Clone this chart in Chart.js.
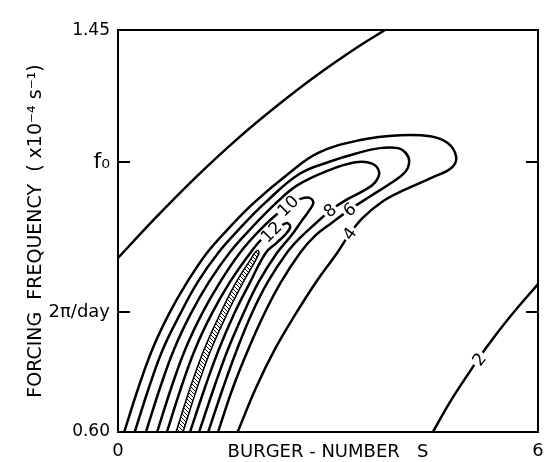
<!DOCTYPE html>
<html>
<head>
<meta charset="utf-8">
<script src="https://cdn.jsdelivr.net/npm/chart.js@4/dist/chart.umd.min.js"></script>
<style>
  html, body { margin: 0; padding: 0; background: #fff; }
  canvas { display: block; }
</style>
</head>
<body>
<canvas id="chart" width="546" height="462"></canvas>
<script>
// Burger number S along x, forcing frequency (x1e-4 s^-1) along y

// upper-left contour (unlabelled)
const topS = [0, 0.57, 1.14, 1.71, 2.29, 2.86, 3.43, 3.81];
const topF = [0.804, 0.877, 0.959, 1.049, 1.148, 1.255, 1.370, 1.450];

// contour 2 (lower right)
const c2S = [4.50, 4.74, 5.00, 5.27, 5.60, 6.00];
const c2F = [0.600, 0.627, 0.655, 0.685, 0.721, 0.765];

const c4S = [0.09, 0.29, 0.49, 0.73, 0.99, 1.27, 1.57, 1.94, 2.43, 2.86, 3.46, 4.03, 4.46, 4.71, 4.83, 4.77, 4.50, 4.10, 3.77, 3.50, 3.31, 3.13, 2.83, 2.54, 2.24, 1.97, 1.71];
const c4F = [0.600, 0.641, 0.682, 0.725, 0.768, 0.812, 0.852, 0.901, 0.962, 1.012, 1.045, 1.058, 1.055, 1.037, 1.003, 0.977, 0.955, 0.928, 0.903, 0.873, 0.844, 0.812, 0.768, 0.725, 0.682, 0.641, 0.600];

const c6S = [0.24, 0.44, 0.64, 0.89, 1.14, 1.43, 1.73, 2.10, 2.59, 3.03, 3.39, 3.74, 4.00, 4.11, 4.16, 4.10, 3.89, 3.60, 3.31, 3.06, 2.81, 2.60, 2.33, 2.09, 1.86, 1.64, 1.43];
const c6F = [0.600, 0.641, 0.682, 0.725, 0.768, 0.812, 0.852, 0.901, 0.962, 0.991, 1.010, 1.024, 1.024, 1.012, 0.991, 0.966, 0.941, 0.914, 0.888, 0.864, 0.840, 0.812, 0.768, 0.725, 0.682, 0.641, 0.600];

const c8S = [0.40, 0.60, 0.80, 1.04, 1.30, 1.59, 1.89, 2.26, 2.56, 2.99, 3.39, 3.63, 3.73, 3.67, 3.51, 3.26, 3.03, 2.83, 2.60, 2.41, 2.14, 1.91, 1.70, 1.50, 1.29];
const c8F = [0.600, 0.641, 0.682, 0.725, 0.768, 0.812, 0.852, 0.901, 0.937, 0.969, 0.989, 0.986, 0.966, 0.943, 0.926, 0.907, 0.886, 0.863, 0.837, 0.812, 0.768, 0.725, 0.682, 0.641, 0.600];

const c10S = [0.56, 0.76, 0.96, 1.20, 1.46, 1.74, 2.04, 2.31, 2.54, 2.71, 2.79, 2.74, 2.63, 2.47, 2.27, 2.01, 1.79, 1.57, 1.37, 1.16];
const c10F = [0.600, 0.641, 0.682, 0.725, 0.768, 0.812, 0.852, 0.884, 0.905, 0.912, 0.903, 0.888, 0.868, 0.840, 0.812, 0.768, 0.725, 0.682, 0.641, 0.600];

const c12S = [0.70, 0.90, 1.10, 1.34, 1.60, 1.89, 2.09, 2.29, 2.41, 2.46, 2.40, 2.27, 2.11, 1.89, 1.66, 1.44, 1.24, 1.03];
const c12F = [0.600, 0.641, 0.682, 0.725, 0.768, 0.812, 0.839, 0.854, 0.863, 0.856, 0.844, 0.829, 0.812, 0.768, 0.725, 0.682, 0.641, 0.600];

// hatched maximum region
const hatchS = [0.83, 1.03, 1.23, 1.46, 1.69, 1.89, 1.96, 2.00, 2.01, 1.79, 1.56, 1.33, 1.13, 0.93];
const hatchF = [0.600, 0.641, 0.682, 0.725, 0.768, 0.801, 0.813, 0.816, 0.810, 0.768, 0.725, 0.682, 0.641, 0.600];

// contour labels
const labelText = ['2', '4', '6', '8', '10', '12'];
const labelS = [5.16, 3.31, 3.31, 3.03, 2.43, 2.19];
const labelF = [0.671, 0.844, 0.888, 0.886, 0.895, 0.847];

// axis ticks
const xTickValues = [0, 6];
const xTickLabels = ['0', '6'];
const yTickValues = [1.45, 0.99, 0.727, 0.60];
const yTickLabels = ['1.45', 'f₀', '2π/day', '0.60'];

const FONT = '"DejaVu Sans", sans-serif';
Chart.defaults.font.family = FONT;
Chart.defaults.color = '#000';

// the figure's y axis is linear in period, so plot 1/f
const toPts = (s, f) => s.map((v, i) => ({ x: v, y: 1 / f[i] }));

function contour(s, f, extra) {
  return Object.assign({
    data: toPts(s, f),
    showLine: true,
    borderColor: '#000',
    borderWidth: 2.5,
    pointRadius: 0,
    tension: 0.4,
    fill: false
  }, extra || {});
}

function hatchPattern(ctx) {
  const c = document.createElement('canvas');
  c.width = 4; c.height = 4;
  const g = c.getContext('2d');
  g.strokeStyle = '#000';
  g.lineWidth = 1;
  g.beginPath();
  g.moveTo(-1, -1); g.lineTo(5, 5);
  g.stroke();
  return ctx.createPattern(c, 'repeat');
}

const labelAngles = [-52, -55, -38, -39, -45, -45];

const contourLabels = {
  id: 'contourLabels',
  afterDatasetsDraw(chart) {
    const { ctx, scales: { x, y } } = chart;
    ctx.save();
    ctx.font = '17px ' + FONT;
    ctx.textAlign = 'center';
    ctx.textBaseline = 'middle';
    labelText.forEach((t, i) => {
      const px = x.getPixelForValue(labelS[i]);
      const py = y.getPixelForValue(1 / labelF[i]);
      const w = ctx.measureText(t).width + 4;
      ctx.save();
      ctx.translate(px, py);
      ctx.rotate(labelAngles[i] * Math.PI / 180);
      ctx.fillStyle = '#fff';
      ctx.fillRect(-w / 2, -6, w, 12);
      ctx.fillStyle = '#000';
      ctx.fillText(t, 0, 1);
      ctx.restore();
    });
    ctx.restore();
  }
};

const canvas = document.getElementById('chart');
const yMin = 1 / 1.45, yMax = 1 / 0.60;

new Chart(canvas, {
  type: 'scatter',
  data: {
    datasets: [
      contour(topS, topF),
      contour(c2S, c2F),
      contour(c4S, c4F),
      contour(c6S, c6F),
      contour(c8S, c8F),
      contour(c10S, c10F),
      contour(c12S, c12F),
      contour(hatchS, hatchF, { borderWidth: 1.5, fill: 'shape', backgroundColor: hatchPattern(canvas.getContext('2d')) })
    ]
  },
  options: {
    responsive: false,
    animation: false,
    devicePixelRatio: 1,
    layout: { padding: { left: 22, top: 19, right: 0, bottom: 0 } },
    plugins: { legend: { display: false }, tooltip: { enabled: false } },
    scales: {
      x: {
        type: 'linear', min: 0, max: 6,
        afterBuildTicks: s => { s.ticks = xTickValues.map(v => ({ value: v })); },
        afterFit: s => { s.height = 27; s.paddingLeft = 0; s.paddingRight = 0; },
        ticks: { callback: (v, i) => xTickLabels[i], font: { size: 18 }, padding: 9, maxRotation: 0, autoSkip: false },
        grid: { drawOnChartArea: false, drawTicks: false },
        border: { color: '#000', width: 2 },
        title: { display: true, text: 'BURGER - NUMBER   S', font: { size: 18 }, padding: { top: 0, bottom: -4 } }
      },
      x2: {
        type: 'linear', position: 'top', min: 0, max: 6, display: true,
        afterFit: s => { s.height = 0; s.paddingLeft = 0; s.paddingRight = 0; },
        ticks: { display: false },
        grid: { drawOnChartArea: false, drawTicks: false },
        border: { color: '#000', width: 2 }
      },
      y: {
        type: 'linear', reverse: true, min: yMin, max: yMax,
        afterBuildTicks: s => { s.ticks = yTickValues.map(v => ({ value: 1 / v })); },
        afterFit: s => { s.width = 96; },
        ticks: {
          callback: (v, i) => yTickLabels[i],
          font: c => ({ size: c.index === 1 ? 22 : (c.index === 2 ? 18 : 17) }),
          padding: 20, autoSkip: false
        },
        grid: { drawOnChartArea: false, drawTicks: true, tickLength: -12, color: '#000', lineWidth: 2 },
        border: { color: '#000', width: 2 },
        title: { display: true, text: 'FORCING  FREQUENCY  ( x10⁻⁴ s⁻¹)', font: { size: 19 }, padding: { top: 3, bottom: 0 } }
      },
      y2: {
        type: 'linear', position: 'right', reverse: true, min: yMin, max: yMax, display: true,
        afterBuildTicks: s => { s.ticks = yTickValues.map(v => ({ value: 1 / v })); },
        afterFit: s => { s.width = 8; },
        ticks: { display: false },
        grid: { drawOnChartArea: false, drawTicks: true, tickLength: -12, color: '#000', lineWidth: 2 },
        border: { color: '#000', width: 2 }
      }
    }
  },
  plugins: [contourLabels]
});
</script>
</body>
</html>
